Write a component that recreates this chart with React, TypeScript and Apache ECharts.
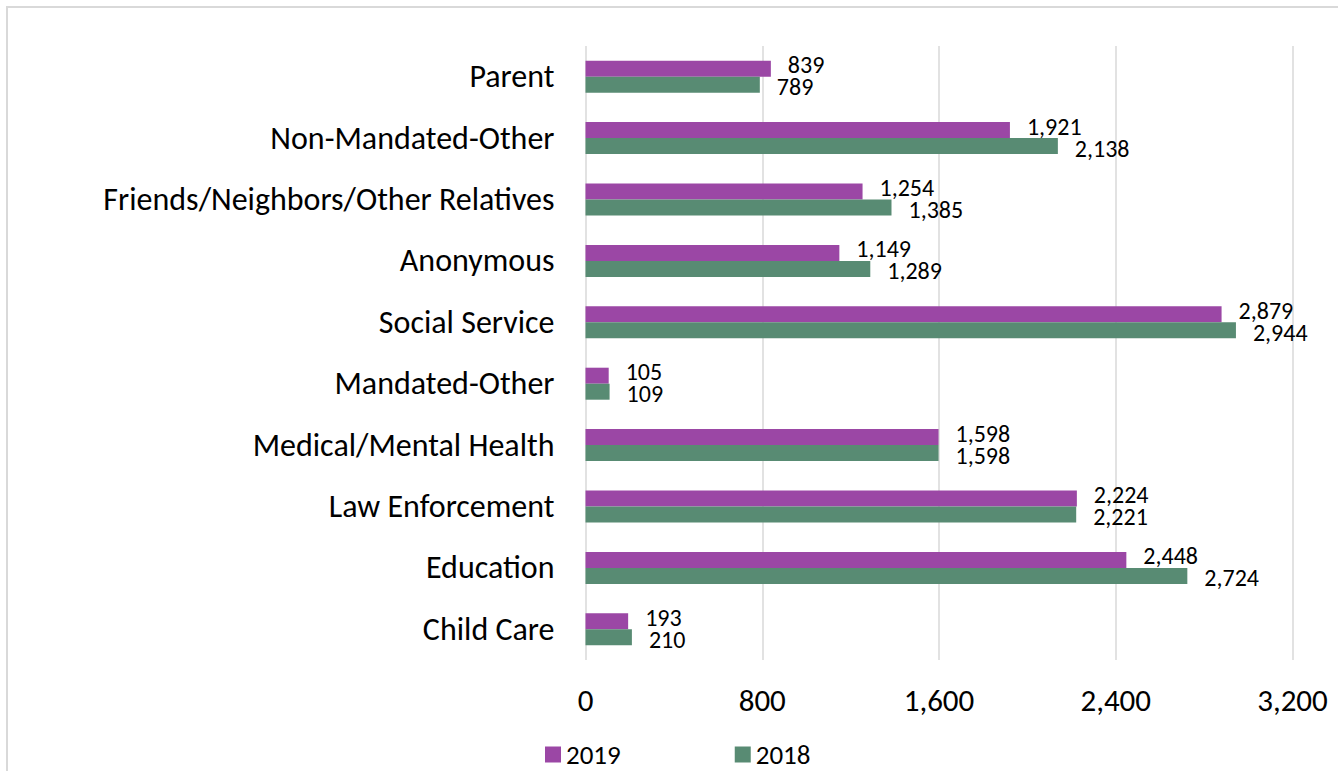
import React, { useEffect, useRef } from "react";
import * as echarts from "echarts";

const categories = [
  "Child Care",
  "Education",
  "Law Enforcement",
  "Medical/Mental Health",
  "Mandated-Other",
  "Social Service",
  "Anonymous",
  "Friends/Neighbors/Other Relatives",
  "Non-Mandated-Other",
  "Parent",
];
const values2019 = [193, 2448, 2224, 1598, 105, 2879, 1149, 1254, 1921, 839];
const values2018 = [210, 2724, 2221, 1598, 109, 2944, 1289, 1385, 2138, 789];
const xTicks = [0, 800, 1600, 2400, 3200];

const FONT = "Carlito, 'Open Sans', sans-serif";
const fmt = (v: number) => v.toLocaleString("en-US");

export default function App() {
  const ref = useRef<HTMLDivElement>(null);
  useEffect(() => {
    if (!ref.current) return;
    const chart = echarts.init(ref.current, null, { renderer: "svg" });
    const labelCfg = {
      show: true,
      position: "right",
      distance: 17,
      fontSize: 24,
      color: "#000",
      fontFamily: FONT,
      formatter: (p: any) => fmt(p.value),
    };
    chart.setOption({
      animation: false,
      backgroundColor: "#ffffff",
      textStyle: { fontFamily: FONT },
      graphic: [
        {
          type: "rect",
          shape: { x: 7, y: 7, width: 1400, height: 800 },
          style: { fill: "none", stroke: "#d9d9d9", lineWidth: 2 },
          silent: true,
        },
      ],
      grid: { left: 585.5, right: 45.5, top: 46, bottom: 111, containLabel: false },
      legend: {
        data: ["2019", "2018"],
        left: 540,
        top: 736,
        itemWidth: 16,
        itemHeight: 16,
        itemGap: 114,
        icon: "rect",
        textStyle: { fontFamily: FONT, fontSize: 27, color: "#000" },
      },
      xAxis: {
        type: "value",
        min: xTicks[0],
        max: xTicks[xTicks.length - 1],
        interval: 800,
        axisLine: { show: false },
        axisTick: { show: false },
        splitLine: { show: true, lineStyle: { color: "#d9d9d9", width: 1.5 } },
        axisLabel: {
          margin: 24,
          fontSize: 31,
          color: "#000",
          fontFamily: FONT,
          formatter: (v: number) => fmt(v),
        },
      },
      yAxis: {
        type: "category",
        data: categories,
        axisLine: { show: false },
        axisTick: { show: false },
        axisLabel: { margin: 31, fontSize: 32, color: "#000", fontFamily: FONT },
      },
      series: [
        {
          name: "2019",
          type: "bar",
          data: values2019,
          barWidth: 16,
          barGap: "0%",
          itemStyle: { color: "#9b47a5" },
          label: { ...labelCfg, offset: [0, -4] },
        },
        {
          name: "2018",
          type: "bar",
          data: values2018,
          barWidth: 16,
          barGap: "0%",
          itemStyle: { color: "#588b73" },
          label: { ...labelCfg, offset: [0, 2] },
        },
      ],
    });
    return () => chart.dispose();
  }, []);
  return (
    <div
      ref={ref}
      style={{ position: "absolute", left: 0, top: 0, width: 1338, height: 771 }}
    />
  );
}
